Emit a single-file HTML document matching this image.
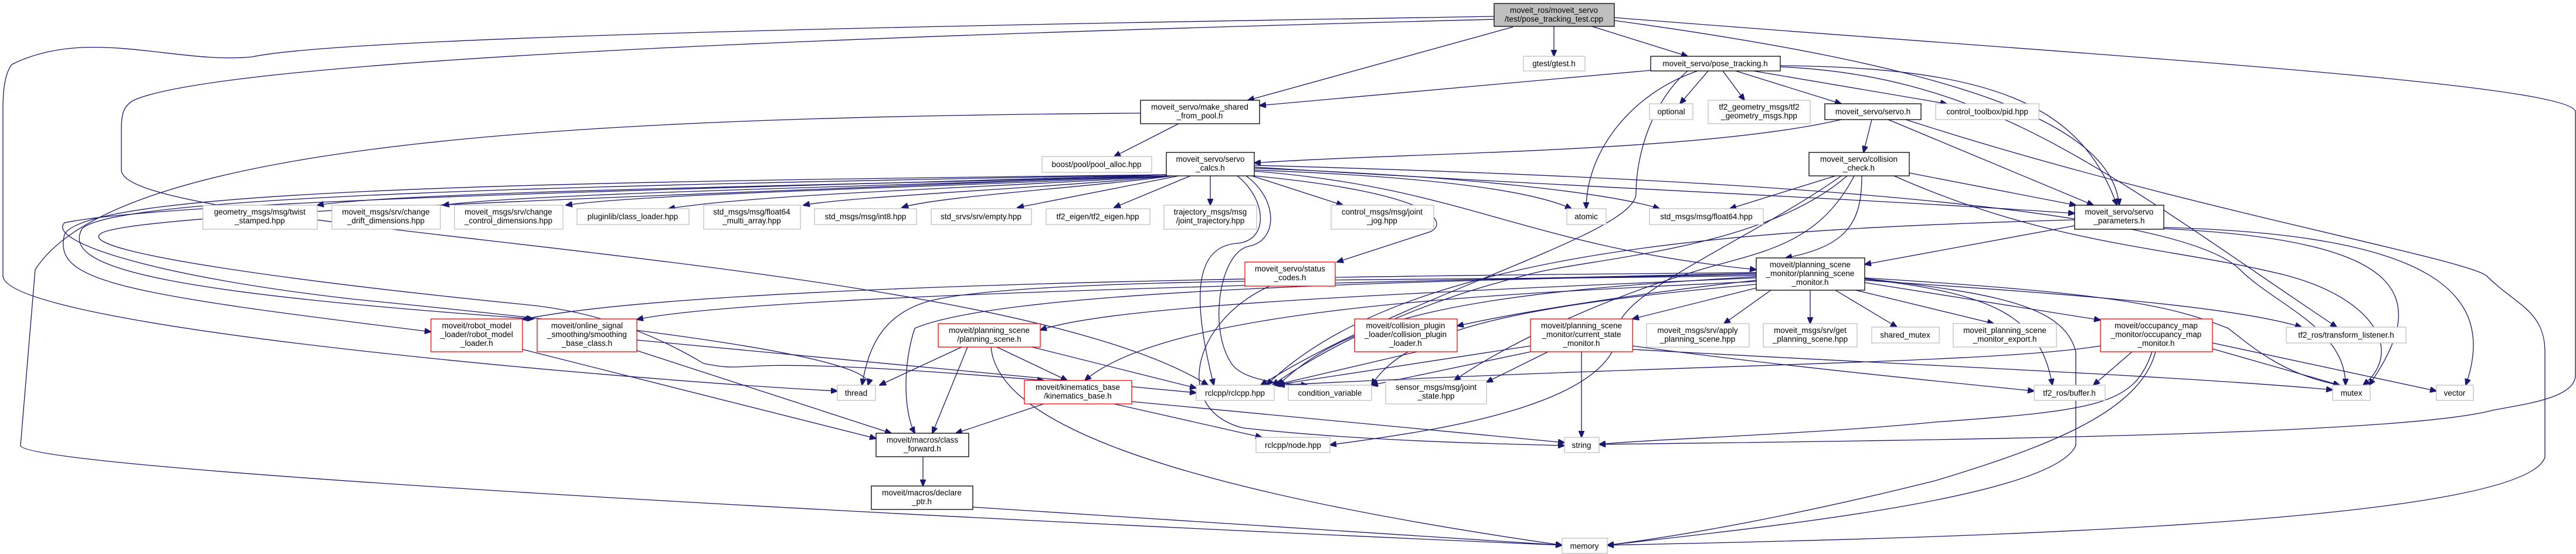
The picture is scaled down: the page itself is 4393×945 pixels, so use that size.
<!DOCTYPE html>
<html><head><meta charset="utf-8"><style>
html,body{margin:0;padding:0;background:#fff;width:4393px;height:945px;overflow:hidden}
svg{display:block}
text{font-family:"Liberation Sans",sans-serif;font-size:13.5px;fill:#000}
.e{fill:none;stroke:#191970;stroke-width:1.3;marker-end:url(#a)}
.g{fill:#fff;stroke:#bfbfbf;stroke-width:1.3}
.b{fill:#fff;stroke:#000;stroke-width:1.3}
.r{fill:#fff;stroke:#ff0000;stroke-width:1.3}
.root{fill:#bfbfbf;stroke:#000;stroke-width:1.3}
</style></head><body>
<svg width="4393" height="945" viewBox="0 0 4393 945" xmlns="http://www.w3.org/2000/svg">
<defs><marker id="a" markerUnits="userSpaceOnUse" markerWidth="12" markerHeight="10" refX="11" refY="5" orient="auto"><path d="M0,0 L12,5 L0,10 z" fill="#191970" stroke="#191970"/></marker></defs>
<g>
<path class="e" d="M2650,45 L2650,96"/>
<path class="e" d="M2715,45 L2878,96"/>
<path class="e" d="M2580,46 L2128,171"/>
<path class="e" d="M2753,35 C3300,110 3600,200 3614,350"/>
<path class="e" d="M2753,30 C3500,90 4380,140 4392,190 L4392,640 C4392,680 4300,690 4250,700 C4100,740 3400,750 2727,758"/>
<path class="e" d="M2548,28 C1800,40 600,60 430,97 C300,110 150,45 20,110 C5,130 5,170 5,190 L5,470 C5,560 1100,650 1428,667"/>
<path class="e" d="M2548,33 C1500,60 400,100 230,170 C210,180 207,195 207,220 L207,290 C207,400 1700,430 2060,657"/>
<path class="e" d="M2815,120 L2148,180"/>
<path class="e" d="M2913,121 L2865,177"/>
<path class="e" d="M2938,121 L2975,171"/>
<path class="e" d="M2960,121 L3140,177"/>
<path class="e" d="M2990,121 L3320,177"/>
<path class="e" d="M3036,112 C3400,115 3550,180 3610,350"/>
<path class="e" d="M3036,114 C3400,130 3600,300 3985,558"/>
<path class="e" d="M2895,121 C2780,160 2705,260 2705,356"/>
<path class="e" d="M2878,121 C2820,170 2790,260 2790,330 C2790,400 2400,500 2150,657"/>
<path class="e" d="M3140,204 C2900,260 2400,260 2139,278"/>
<path class="e" d="M3192,204 L3178,260"/>
<path class="e" d="M3220,204 L3570,350"/>
<path class="e" d="M3250,204 C3700,350 4200,440 4240,470 C4290,520 4340,530 4340,600 L4340,780 C4300,900 3200,920 2741,930"/>
<path class="e" d="M2010,211 L1900,267"/>
<path class="e" d="M1945,193 C1000,200 200,240 60,460 L35,760 C40,800 1500,880 2664,930"/>
<path class="e" d="M1989,300 C1500,315 700,325 541,350"/>
<path class="e" d="M1989,300 C1500,318 900,330 755,350"/>
<path class="e" d="M1989,300 C1600,320 1100,330 965,350"/>
<path class="e" d="M1995,300 C1700,320 1300,330 1140,356"/>
<path class="e" d="M1995,300 C1800,320 1450,335 1370,350"/>
<path class="e" d="M2000,300 C1850,320 1600,335 1538,354"/>
<path class="e" d="M2010,300 L1735,354"/>
<path class="e" d="M2030,300 L1900,354"/>
<path class="e" d="M2064,300 L2064,350"/>
<path class="e" d="M2135,300 L2290,350"/>
<path class="e" d="M2139,290 C2400,300 2600,320 2680,356"/>
<path class="e" d="M2139,287 C2500,300 2750,330 2830,356"/>
<path class="e" d="M2139,285 C2700,320 3200,340 3538,364"/>
<path class="e" d="M2139,292 C2500,320 2600,420 2995,460"/>
<path class="e" d="M2139,300 C2450,330 2470,380 2440,395 L2280,447"/>
<path class="e" d="M2110,300 C2160,340 2165,410 2110,415 C2040,420 2030,500 2070,657"/>
<path class="e" d="M2125,300 C2180,340 2180,410 2130,420 C2080,430 2060,560 2100,620 C2120,650 2190,655 2230,657"/>
<path class="e" d="M1989,298 C1000,310 150,320 110,400 C90,480 200,500 735,566"/>
<path class="e" d="M1989,298 C1100,315 200,330 140,390 C100,460 300,500 910,544"/>
<path class="e" d="M1989,298 C1300,320 300,340 110,380 C80,410 250,470 600,510 C900,540 1500,600 1480,657"/>
<path class="e" d="M1989,298 C1300,330 200,360 170,400 C140,430 500,480 900,520 C1000,530 1100,560 1200,620 C1300,640 1200,600 1780,649"/>
<path class="e" d="M2139,282 C2800,300 3700,340 3820,460 C3880,520 4000,560 4000,657"/>
<path class="e" d="M3130,300 L2950,356"/>
<path class="e" d="M3256,295 L3540,350"/>
<path class="e" d="M3175,300 C3175,380 3150,420 3045,440"/>
<path class="e" d="M3230,300 C3500,420 3700,420 3900,470 C4050,510 4100,600 4030,657"/>
<path class="e" d="M3150,300 C3000,430 2700,440 2600,470 C2400,520 2250,600 2170,657"/>
<path class="e" d="M3140,300 C3000,400 2760,500 2760,560 C2760,700 2400,740 2268,759"/>
<path class="e" d="M3162,300 C3100,420 3000,430 2900,460 C2700,520 2550,600 2480,649"/>
<path class="e" d="M3538,385 L3180,451"/>
<path class="e" d="M3690,390 C4100,410 4150,500 4040,657"/>
<path class="e" d="M3690,388 C4150,400 4260,500 4205,657"/>
<path class="e" d="M3538,375 C3000,390 2400,420 2160,657"/>
<path class="e" d="M2995,474 C2400,500 1900,520 1774,563"/>
<path class="e" d="M2995,478 C2800,500 2600,530 2485,556"/>
<path class="e" d="M3000,490 L2784,544"/>
<path class="e" d="M3020,495 L2940,552"/>
<path class="e" d="M3087,495 L3087,552"/>
<path class="e" d="M3130,495 L3235,558"/>
<path class="e" d="M3165,495 L3400,552"/>
<path class="e" d="M3180,482 L3582,546"/>
<path class="e" d="M3180,478 C3500,500 3800,520 3925,558"/>
<path class="e" d="M3180,476 C3400,500 3480,540 3500,657"/>
<path class="e" d="M3180,474 C3600,500 3700,520 3800,560 C3850,600 3900,640 3990,657"/>
<path class="e" d="M3180,475 C3400,500 3520,520 3540,600 L3540,760 C3500,850 3000,900 2741,930"/>
<path class="e" d="M2995,470 C2500,480 1800,470 1600,510 C1500,530 1480,600 1470,657"/>
<path class="e" d="M2995,472 C2500,500 2300,540 2180,657"/>
<path class="e" d="M2995,468 C2300,480 1700,500 1560,560 C1540,620 1540,700 1560,739"/>
<path class="e" d="M2995,465 C2400,470 1200,480 891,545"/>
<path class="e" d="M2995,466 C2400,480 1300,500 1086,545"/>
<path class="e" d="M2995,480 C2600,500 2000,520 1850,649"/>
<path class="e" d="M2995,485 C2600,520 2400,560 2339,657"/>
<path class="e" d="M2610,590 L2173,657"/>
<path class="e" d="M2620,598 L2339,657"/>
<path class="e" d="M2640,600 L2535,652"/>
<path class="e" d="M2697,600 L2697,746"/>
<path class="e" d="M2784,596 C3200,620 3700,640 3978,665"/>
<path class="e" d="M2784,590 C3000,620 3300,650 3469,667"/>
<path class="e" d="M3636,600 L3570,657"/>
<path class="e" d="M3773,595 L3990,657"/>
<path class="e" d="M3773,585 L4155,667"/>
<path class="e" d="M3670,600 C3640,690 3580,700 3300,720 C3100,740 2800,750 2727,758"/>
<path class="e" d="M3676,600 C3650,700 3500,760 3300,820 C3100,870 2900,910 2741,930"/>
<path class="e" d="M3582,590 C3400,620 2900,620 2180,657"/>
<path class="e" d="M2485,584 L2173,657"/>
<path class="e" d="M1640,592 L1500,657"/>
<path class="e" d="M1700,592 L1820,649"/>
<path class="e" d="M1650,592 L1590,739"/>
<path class="e" d="M1760,592 L2040,662"/>
<path class="e" d="M1690,592 C1700,700 1900,820 2664,930"/>
<path class="e" d="M1780,689 L1630,739"/>
<path class="e" d="M1900,689 L2152,746"/>
<path class="e" d="M1930,685 L2668,755"/>
<path class="e" d="M1574,779 L1574,829"/>
<path class="e" d="M1659,865 L2664,930"/>
<path class="e" d="M891,596 L1494,748"/>
<path class="e" d="M1086,598 L1520,739"/>
<path class="e" d="M1086,580 L2040,670"/>
<path class="e" d="M2165,488 C2030,550 2000,700 2120,730 C2300,750 2500,756 2668,760"/>
</g>
<g>
<rect class="root" x="2548" y="6" width="205" height="39"/><text x="2650" y="22" text-anchor="middle">moveit_ros/moveit_servo</text><text x="2650" y="37" text-anchor="middle">/test/pose_tracking_test.cpp</text>
<rect class="g" x="2598" y="96" width="105" height="25"/><text x="2650" y="113" text-anchor="middle">gtest/gtest.h</text>
<rect class="b" x="2815" y="96" width="221" height="25"/><text x="2925" y="113" text-anchor="middle">moveit_servo/pose_tracking.h</text>
<rect class="b" x="1945" y="171" width="203" height="40"/><text x="2046" y="187" text-anchor="middle">moveit_servo/make_shared</text><text x="2046" y="202" text-anchor="middle">_from_pool.h</text>
<rect class="g" x="2813" y="177" width="74" height="27"/><text x="2850" y="195" text-anchor="middle">optional</text>
<rect class="g" x="2913" y="171" width="174" height="40"/><text x="3000" y="187" text-anchor="middle">tf2_geometry_msgs/tf2</text><text x="3000" y="202" text-anchor="middle">_geometry_msgs.hpp</text>
<rect class="b" x="3112" y="177" width="164" height="27"/><text x="3194" y="195" text-anchor="middle">moveit_servo/servo.h</text>
<rect class="g" x="3301" y="177" width="176" height="27"/><text x="3389" y="195" text-anchor="middle">control_toolbox/pid.hpp</text>
<rect class="g" x="1777" y="267" width="187" height="27"/><text x="1870" y="285" text-anchor="middle">boost/pool/pool_alloc.hpp</text>
<rect class="b" x="1989" y="260" width="150" height="40"/><text x="2064" y="276" text-anchor="middle">moveit_servo/servo</text><text x="2064" y="291" text-anchor="middle">_calcs.h</text>
<rect class="b" x="3085" y="260" width="171" height="40"/><text x="3170" y="276" text-anchor="middle">moveit_servo/collision</text><text x="3170" y="291" text-anchor="middle">_check.h</text>
<rect class="g" x="346" y="350" width="195" height="41"/><text x="443" y="366" text-anchor="middle">geometry_msgs/msg/twist</text><text x="443" y="381" text-anchor="middle">_stamped.hpp</text>
<rect class="g" x="566" y="350" width="185" height="41"/><text x="658" y="366" text-anchor="middle">moveit_msgs/srv/change</text><text x="658" y="381" text-anchor="middle">_drift_dimensions.hpp</text>
<rect class="g" x="775" y="350" width="185" height="41"/><text x="867" y="366" text-anchor="middle">moveit_msgs/srv/change</text><text x="867" y="381" text-anchor="middle">_control_dimensions.hpp</text>
<rect class="g" x="984" y="356" width="191" height="27"/><text x="1079" y="374" text-anchor="middle">pluginlib/class_loader.hpp</text>
<rect class="g" x="1200" y="350" width="165" height="41"/><text x="1282" y="366" text-anchor="middle">std_msgs/msg/float64</text><text x="1282" y="381" text-anchor="middle">_multi_array.hpp</text>
<rect class="g" x="1389" y="356" width="174" height="27"/><text x="1476" y="374" text-anchor="middle">std_msgs/msg/int8.hpp</text>
<rect class="g" x="1588" y="356" width="171" height="27"/><text x="1673" y="374" text-anchor="middle">std_srvs/srv/empty.hpp</text>
<rect class="g" x="1784" y="356" width="177" height="27"/><text x="1872" y="374" text-anchor="middle">tf2_eigen/tf2_eigen.hpp</text>
<rect class="g" x="1985" y="350" width="158" height="41"/><text x="2064" y="366" text-anchor="middle">trajectory_msgs/msg</text><text x="2064" y="381" text-anchor="middle">/joint_trajectory.hpp</text>
<rect class="g" x="2270" y="350" width="175" height="41"/><text x="2357" y="366" text-anchor="middle">control_msgs/msg/joint</text><text x="2357" y="381" text-anchor="middle">_jog.hpp</text>
<rect class="g" x="2672" y="356" width="67" height="27"/><text x="2705" y="374" text-anchor="middle">atomic</text>
<rect class="g" x="2813" y="356" width="194" height="27"/><text x="2910" y="374" text-anchor="middle">std_msgs/msg/float64.hpp</text>
<rect class="b" x="3538" y="350" width="152" height="41"/><text x="3614" y="366" text-anchor="middle">moveit_servo/servo</text><text x="3614" y="381" text-anchor="middle">_parameters.h</text>
<rect class="r" x="2123" y="447" width="154" height="41"/><text x="2200" y="463" text-anchor="middle">moveit_servo/status</text><text x="2200" y="478" text-anchor="middle">_codes.h</text>
<rect class="b" x="2995" y="440" width="185" height="55"/><text x="3087" y="456" text-anchor="middle">moveit/planning_scene</text><text x="3087" y="471" text-anchor="middle">_monitor/planning_scene</text><text x="3087" y="486" text-anchor="middle">_monitor.h</text>
<rect class="r" x="735" y="544" width="156" height="56"/><text x="813" y="560" text-anchor="middle">moveit/robot_model</text><text x="813" y="575" text-anchor="middle">_loader/robot_model</text><text x="813" y="590" text-anchor="middle">_loader.h</text>
<rect class="r" x="916" y="544" width="170" height="56"/><text x="1001" y="560" text-anchor="middle">moveit/online_signal</text><text x="1001" y="575" text-anchor="middle">_smoothing/smoothing</text><text x="1001" y="590" text-anchor="middle">_base_class.h</text>
<rect class="r" x="1600" y="552" width="174" height="40"/><text x="1687" y="568" text-anchor="middle">moveit/planning_scene</text><text x="1687" y="583" text-anchor="middle">/planning_scene.h</text>
<rect class="r" x="2310" y="544" width="175" height="56"/><text x="2397" y="560" text-anchor="middle">moveit/collision_plugin</text><text x="2397" y="575" text-anchor="middle">_loader/collision_plugin</text><text x="2397" y="590" text-anchor="middle">_loader.h</text>
<rect class="r" x="2610" y="544" width="174" height="56"/><text x="2697" y="560" text-anchor="middle">moveit/planning_scene</text><text x="2697" y="575" text-anchor="middle">_monitor/current_state</text><text x="2697" y="590" text-anchor="middle">_monitor.h</text>
<rect class="g" x="2808" y="552" width="175" height="40"/><text x="2895" y="568" text-anchor="middle">moveit_msgs/srv/apply</text><text x="2895" y="583" text-anchor="middle">_planning_scene.hpp</text>
<rect class="g" x="3007" y="552" width="160" height="40"/><text x="3087" y="568" text-anchor="middle">moveit_msgs/srv/get</text><text x="3087" y="583" text-anchor="middle">_planning_scene.hpp</text>
<rect class="g" x="3192" y="558" width="115" height="27"/><text x="3249" y="576" text-anchor="middle">shared_mutex</text>
<rect class="g" x="3331" y="552" width="176" height="40"/><text x="3419" y="568" text-anchor="middle">moveit_planning_scene</text><text x="3419" y="583" text-anchor="middle">_monitor_export.h</text>
<rect class="r" x="3582" y="544" width="191" height="56"/><text x="3677" y="560" text-anchor="middle">moveit/occupancy_map</text><text x="3677" y="575" text-anchor="middle">_monitor/occupancy_map</text><text x="3677" y="590" text-anchor="middle">_monitor.h</text>
<rect class="g" x="3899" y="558" width="204" height="27"/><text x="4001" y="576" text-anchor="middle">tf2_ros/transform_listener.h</text>
<rect class="g" x="1428" y="657" width="65" height="26"/><text x="1460" y="675" text-anchor="middle">thread</text>
<rect class="r" x="1747" y="649" width="183" height="40"/><text x="1838" y="665" text-anchor="middle">moveit/kinematics_base</text><text x="1838" y="680" text-anchor="middle">/kinematics_base.h</text>
<rect class="g" x="2040" y="657" width="133" height="26"/><text x="2106" y="675" text-anchor="middle">rclcpp/rclcpp.hpp</text>
<rect class="g" x="2197" y="657" width="142" height="26"/><text x="2268" y="675" text-anchor="middle">condition_variable</text>
<rect class="g" x="2363" y="649" width="172" height="40"/><text x="2449" y="665" text-anchor="middle">sensor_msgs/msg/joint</text><text x="2449" y="680" text-anchor="middle">_state.hpp</text>
<rect class="g" x="3469" y="657" width="121" height="26"/><text x="3529" y="675" text-anchor="middle">tf2_ros/buffer.h</text>
<rect class="g" x="3978" y="657" width="64" height="26"/><text x="4010" y="675" text-anchor="middle">mutex</text>
<rect class="g" x="4155" y="657" width="63" height="26"/><text x="4186" y="675" text-anchor="middle">vector</text>
<rect class="b" x="1494" y="739" width="158" height="40"/><text x="1573" y="755" text-anchor="middle">moveit/macros/class</text><text x="1573" y="770" text-anchor="middle">_forward.h</text>
<rect class="g" x="2142" y="746" width="126" height="26"/><text x="2205" y="764" text-anchor="middle">rclcpp/node.hpp</text>
<rect class="g" x="2668" y="746" width="59" height="26"/><text x="2697" y="764" text-anchor="middle">string</text>
<rect class="b" x="1486" y="829" width="173" height="40"/><text x="1572" y="845" text-anchor="middle">moveit/macros/declare</text><text x="1572" y="860" text-anchor="middle">_ptr.h</text>
<rect class="g" x="2664" y="918" width="77" height="26"/><text x="2702" y="936" text-anchor="middle">memory</text>
</g>
</svg>
</body></html>
